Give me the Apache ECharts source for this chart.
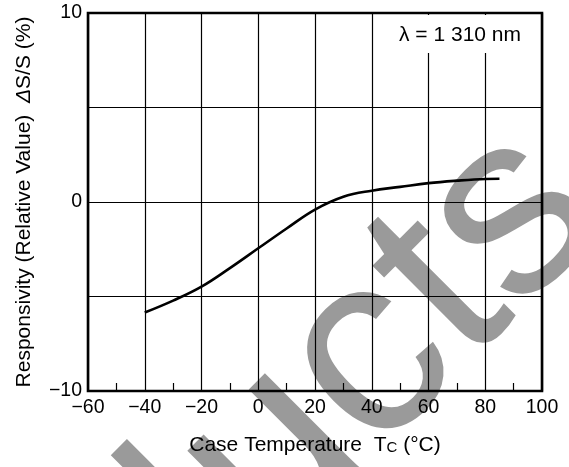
<!DOCTYPE html>
<html>
<head>
<meta charset="utf-8">
<script src="https://cdn.jsdelivr.net/npm/echarts@6/dist/echarts.min.js"></script>
<style>
html,body{margin:0;padding:0;background:#fff;}
#c{width:569px;height:467px;}
</style>
</head>
<body>
<div id="c"></div>
<script>
// Data
const temps = [-40, -30, -20, -10, 0, 10, 20, 30, 40, 50, 60, 70, 80, 85];
const responsivity = [-5.85, -5.22, -4.48, -3.5, -2.45, -1.4, -0.4, 0.28, 0.6, 0.8, 1.0, 1.13, 1.22, 1.23];
const yTickLabels = [-10, 0, 10];
const xLabel = 'Case Temperature  T{s|C} (°C)';
const yLabel = 'Responsivity (Relative Value)  {i|Δ}S/S (%)';
const noteText = 'λ = 1 310 nm';
const watermark = 'Products';

const FONT = '"Liberation Sans", Arial, Helvetica, sans-serif';
const fmtNum = v => (v < 0 ? '\u2212' + Math.abs(v) : String(v));

const chart = echarts.init(document.getElementById('c'), null, {renderer: 'canvas'});
chart.setOption({
  backgroundColor: '#fff',
  animation: false,
  grid: {left: 88, right: 27, top: 13, bottom: 76, show: true, borderColor: '#000', borderWidth: 2.6, backgroundColor: 'transparent', z: 3},
  xAxis: {
    type: 'value', min: -60, max: 100, interval: 20,
    name: xLabel, nameLocation: 'middle', nameGap: 44,
    nameTextStyle: {fontFamily: FONT, fontSize: 21, color: '#000', rich: {s: {fontFamily: FONT, fontSize: 15, color: '#000', padding: [4, 0, 0, 0]}}},
    axisLine: {show: false, onZero: false},
    axisTick: {show: true, inside: true, length: 0},
    minorTick: {show: true, splitNumber: 2, length: 8, lineStyle: {color: '#000', width: 1.2}},
    axisLabel: {fontFamily: FONT, fontSize: 19.5, color: '#000', margin: 7, formatter: fmtNum},
    splitLine: {show: true, lineStyle: {color: '#000', width: 1.2}},
    minorSplitLine: {show: false}
  },
  yAxis: {
    type: 'value', min: -10, max: 10, interval: 5,
    name: yLabel, nameLocation: 'middle', nameGap: 53,
    nameTextStyle: {fontFamily: FONT, fontSize: 21, color: '#000', rich: {i: {fontFamily: FONT, fontSize: 21, fontStyle: 'italic', color: '#000'}}},
    axisLine: {show: false, onZero: false},
    axisTick: {show: false},
    axisLabel: {fontFamily: FONT, fontSize: 19.5, color: '#000', margin: 6,
      formatter: v => (yTickLabels.indexOf(v) >= 0 ? fmtNum(v) : '')},
    splitLine: {show: true, lineStyle: {color: '#000', width: 1.2}}
  },
  graphic: [
    {
      type: 'text', x: 559, y: 172, rotation: Math.PI / 4, z: -10, silent: true,
      style: {text: watermark, font: '260px ' + FONT, fill: '#9a9a9a', align: 'right', verticalAlign: 'middle'}
    },
    {
      type: 'rect', shape: {x: 390, y: 15, width: 142, height: 38}, z: 50,
      style: {fill: '#fff'}
    },
    {
      type: 'text', x: 460, y: 35, z: 51,
      style: {text: noteText, font: '21px ' + FONT, fill: '#000', align: 'center', verticalAlign: 'middle'}
    }
  ],
  series: [{
    type: 'line', data: temps.map((t, i) => [t, responsivity[i]]),
    smooth: 0.4, showSymbol: false, symbol: 'none', z: 5,
    lineStyle: {color: '#000', width: 2.6}
  }]
});
</script>
</body>
</html>
